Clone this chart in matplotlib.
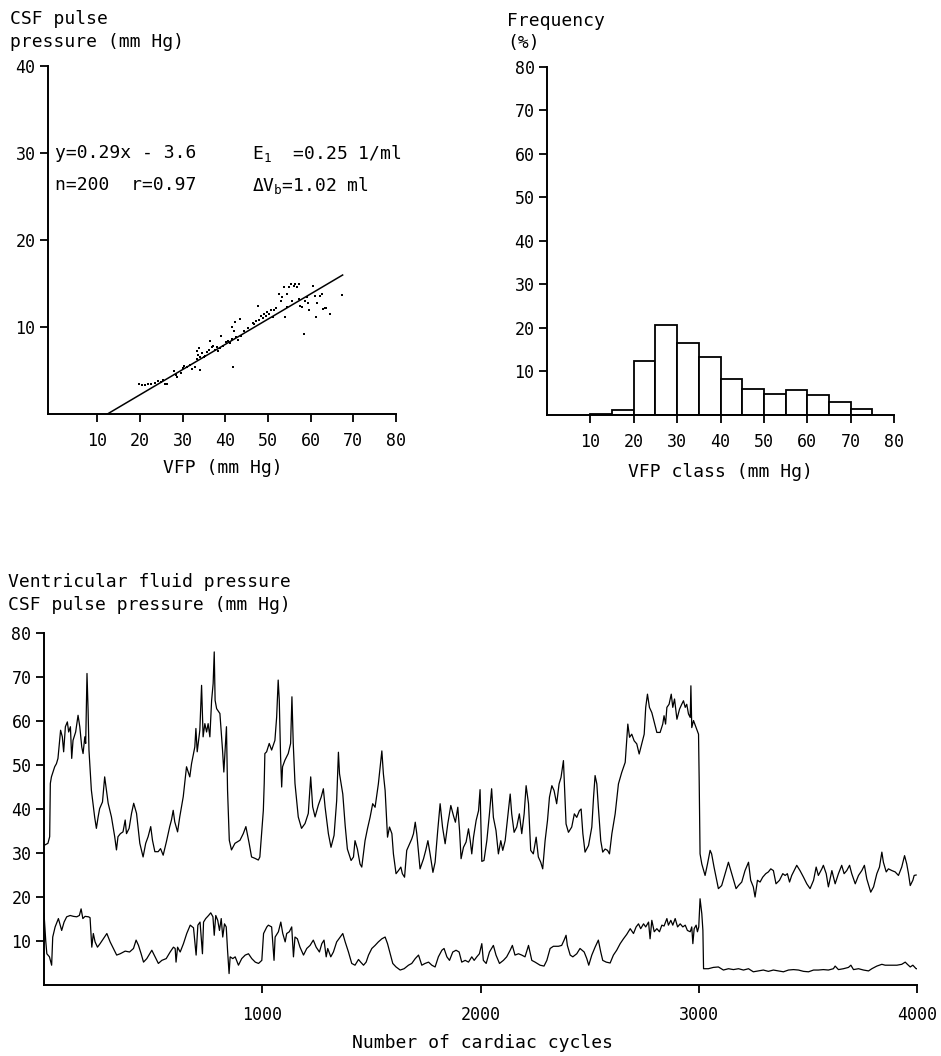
import numpy as np
import matplotlib
matplotlib.use('Agg')
import matplotlib.pyplot as plt

plt.rcParams['font.family'] = ['DejaVu Sans Mono', 'DejaVu Sans']
plt.rcParams['mathtext.default'] = 'regular'
plt.rcParams['mathtext.fontset'] = 'custom'
plt.rcParams['mathtext.rm'] = 'DejaVu Sans Mono'

# scatter: VFP vs CSF pulse pressure (mm Hg)
vfp_pts = [19.8, 20.4, 21.2, 21.9, 22.7, 23.5, 24.2, 25.0, 25.8, 26.4, 25.4,
           28.05, 28.4, 28.8, 29.6, 30.0, 30.4, 31.1, 31.7, 32.3, 32.9, 33.4,
           33.65, 34.0, 34.2, 34.6, 33.3, 35.0, 35.3, 33.8, 35.7, 36.1, 36.5,
           36.9, 37.25, 37.6, 38.0, 38.4, 38.8, 39.0, 39.55, 40.1, 40.55, 41.1,
           41.5, 41.7, 42.1, 42.4, 42.6, 43.0, 43.4, 41.85, 43.8, 44.5, 45.3,
           46.5, 46.8, 47.2, 47.6, 48.0, 48.4, 48.8, 49.1, 49.5, 49.9, 50.3,
           50.7, 51.1, 51.4, 51.8, 52.6, 53.0, 53.4, 53.7, 54.1, 54.4, 54.5,
           54.9, 55.3, 55.7, 56.0, 56.4, 56.8, 57.2, 57.4, 57.6, 58.0, 58.5,
           58.7, 59.1, 59.5, 59.7, 60.6, 61.0, 61.3, 61.4, 62.2, 62.6, 62.8,
           63.3, 63.7, 64.5, 67.4]
csf_pts = [3.4, 3.3, 3.3, 3.4, 3.5, 3.6, 3.75, 3.7, 3.4, 3.5, 3.9,
           4.98, 4.52, 4.21, 4.67, 5.29, 5.56, 5.36, 5.63, 5.17, 5.44, 6.32,
           6.82, 5.06, 6.59, 6.97, 7.28, 6.51, 6.70, 7.59, 7.09, 7.36, 8.35,
           7.66, 7.85, 7.36, 7.66, 7.28, 7.59, 9.0, 7.85, 8.24, 8.43, 8.12,
           8.62, 10.04, 9.58, 10.54, 8.81, 8.51, 10.92, 5.44, 9.0, 9.58, 9.89,
           10.42, 10.34, 10.65, 12.45, 10.8, 11.3, 11.0, 11.5, 11.3, 11.7, 11.5,
           11.9, 11.1, 11.95, 12.2, 13.8, 13.0, 13.4, 14.6, 11.1, 12.3, 13.8,
           14.6, 14.9, 13.0, 14.75, 14.9, 14.6, 14.9, 13.2, 12.45, 12.3, 9.2,
           13.0, 13.4, 12.8, 11.9, 14.75, 13.6, 11.1, 12.8, 13.6, 13.8, 12.1,
           12.2, 12.2, 11.5, 13.7]
slope, intercept = 0.29, -3.6
fit_range = [3.6 / 0.29, 67.5]

# histogram: VFP classes (mm Hg) and frequency (%)
class_left = [10, 15, 20, 25, 30, 35, 40, 45, 50, 55, 60, 65, 70]
class_freq = [0.2, 1.2, 12.3, 20.6, 16.6, 13.3, 8.3, 6.0, 4.8, 5.8, 4.7, 2.9, 1.3]

# trend of ventricular fluid pressure over cardiac cycles
vfp_cycles = [3, 18, 26, 29, 34, 49, 57, 64, 76, 84, 90, 98, 107, 113, 121, 127, 133, 145, 156, 164,
              173, 179, 187, 191, 197, 202, 206, 217, 232, 240, 248, 255, 268, 278, 286, 294, 309, 324,
              332, 339, 350, 362, 372, 378, 390, 401, 411, 424, 439, 454, 466, 477, 489, 497, 508, 523,
              534, 546, 561, 576, 584, 592, 599, 612, 622, 638, 653, 668, 676, 691, 696, 702, 714, 722,
              729, 737, 745, 752, 760, 768, 775, 780, 784, 791, 806, 818, 824, 830, 836, 841, 849, 859,
              875, 898, 913, 925, 940, 951, 966, 982, 989, 997, 1005, 1009, 1012, 1020, 1032, 1043, 1058,
              1066, 1073, 1078, 1084, 1089, 1093, 1104, 1119, 1130, 1136, 1142, 1150, 1165, 1180, 1196,
              1211, 1222, 1231, 1242, 1257, 1270, 1280, 1288, 1303, 1315, 1329, 1341, 1349, 1354, 1369,
              1380, 1390, 1407, 1418, 1425, 1436, 1448, 1456, 1471, 1482, 1494, 1506, 1517, 1532, 1543,
              1548, 1555, 1563, 1574, 1583, 1594, 1601, 1613, 1624, 1635, 1642, 1652, 1662, 1675, 1685,
              1693, 1701, 1708, 1723, 1739, 1749, 1759, 1769, 1782, 1792, 1804, 1815, 1826, 1838, 1850,
              1864, 1876, 1885, 1896, 1904, 1911, 1922, 1934, 1945, 1953, 1960, 1968, 1980, 1991, 1998,
              2006, 2016, 2029, 2041, 2051, 2059, 2071, 2082, 2093, 2102, 2113, 2123, 2136, 2143, 2154,
              2166, 2178, 2189, 2200, 2209, 2220, 2230, 2242, 2255, 2265, 2276, 2285, 2296, 2307, 2316,
              2327, 2337, 2349, 2360, 2369, 2380, 2385, 2392, 2403, 2418, 2430, 2441, 2453, 2461, 2469,
              2479, 2495, 2510, 2518, 2525, 2533, 2540, 2551, 2560, 2571, 2582, 2591, 2602, 2617, 2632,
              2647, 2663, 2670, 2675, 2683, 2693, 2704, 2716, 2727, 2739, 2750, 2757, 2765, 2774, 2785,
              2796, 2808, 2823, 2835, 2841, 2848, 2854, 2864, 2874, 2881, 2889, 2900, 2912, 2922, 2930,
              2938, 2945, 2953, 2961, 2964, 2968, 2976, 2988, 2999, 3002, 3006, 3014, 3029, 3040, 3052,
              3059, 3070, 3090, 3105, 3121, 3136, 3147, 3156, 3171, 3182, 3197, 3212, 3228, 3238, 3250,
              3258, 3269, 3281, 3293, 3307, 3319, 3330, 3342, 3354, 3370, 3385, 3396, 3406, 3416, 3426,
              3437, 3449, 3464, 3480, 3495, 3510, 3526, 3538, 3548, 3564, 3571, 3584, 3594, 3610, 3625,
              3640, 3655, 3666, 3678, 3691, 3701, 3717, 3732, 3747, 3759, 3770, 3788, 3801, 3816, 3828,
              3839, 3846, 3859, 3869, 3885, 3900, 3915, 3930, 3943, 3953, 3961, 3969, 3981, 3987, 3996]
vfp_values = [31.8, 32.2, 33.7, 45.8, 47.3, 49.6, 50.3, 51.5, 57.9, 56.4, 53, 58.7, 59.8, 57.5, 58.7, 51.5, 55.6, 57.5, 61.3, 58.7,
              54.1, 52.6, 56.4, 54.9, 70.8, 62.5, 53.4, 44.3, 38.2, 35.6, 38.2, 40.1, 41.6, 47.3, 44.3, 41.3, 38.2, 33.7,
              30.7, 33.7, 34.4, 34.8, 37.5, 34.4, 35.6, 39, 41.3, 39, 32.2, 29.1, 32.2, 33.7, 36, 32.9, 30.3, 30.3,
              31, 29.5, 32.6, 36, 37.5, 39.7, 37.1, 34.8, 38.2, 42.8, 49.6, 47.3, 50.3, 54.1, 58.3, 53, 57.9, 68.1,
              56.4, 59.4, 57.5, 59.4, 56.4, 64.7, 68.5, 75.7, 64.7, 62.8, 61.7, 53.4, 48.4, 53.4, 58.7, 44.3, 32.9, 30.7,
              32.2, 32.9, 34.4, 36, 32.2, 29.1, 28.8, 28.4, 29.1, 34.4, 39.7, 45.8, 52.6, 53, 54.9, 53.4, 55.6,
              60.9, 69.3, 64.7, 51.9, 45, 49.6, 51.1, 52.6, 54.9, 65.5, 54.9, 45.8, 38.2, 35.6, 36.7,
              39, 47.3, 40.5, 38.2, 40.9, 42.7, 44.6, 40.4, 34.4, 31.3, 34, 41.9, 52.9, 48, 43.4,
              36.2, 30.9, 28.3, 29.1, 32.8, 30.9, 27.5, 26.8, 32.8, 35.5, 38.1, 41.2, 40.4, 45.7, 51,
              53.2, 48, 44.2, 33.6, 35.9, 34.4, 29.8, 25.3, 26, 26.8, 25.3, 24.5, 30.6, 32.1, 33.2,
              34.4, 37, 34.4, 26.4, 28.7, 30.6, 32.8, 29.8, 25.6, 27.9, 35.1, 41.2, 35.9, 32.1, 36.6,
              40.8, 38.5, 37, 40.4, 35.1, 28.7, 31.3, 32.5, 35.5, 32.8, 29.8, 33.6, 37.4, 39.6, 44.4,
              28.1, 28.3, 32.8, 38.9, 44.6, 38.1, 35.1, 29.8, 32.8, 30.6, 32.8, 37.4, 43.4, 38.9, 34.7,
              35.9, 38.9, 34.4, 38.9, 45.3, 41.2, 30.6, 29.8, 33.6, 29.1, 27.9, 26.4, 32.8, 37.4, 42.7,
              45.3, 44.2, 41.2, 45.7, 47.2, 51, 44.9, 36.6, 34.7, 35.9, 38.9, 38.1, 39.6, 40, 34.4,
              30.2, 31.7, 35.9, 42.7, 47.6, 45.7, 40.4, 32.8, 30.2, 30.9, 30.6, 29.8, 34.4, 38.9, 45.7,
              48.3, 50.6, 55.5, 59.3, 56.3, 57, 55.5, 54.8, 52.5, 54.8, 57, 63.1, 66.1, 63.1, 61.9,
              59.7, 57.4, 57.4, 59.3, 61.2, 59.3, 63.1, 63.8, 66.1, 63.1, 65, 60.4, 62.7, 63.8, 64.6,
              63.1, 63.8, 61.6, 60.8, 68, 58.5, 60.1, 58.5, 57, 46.4, 29.8, 27.5, 24.9, 27.5, 30.6,
              29.8, 26.8, 21.9, 22.6, 25.3, 27.9, 26, 24.5, 21.9, 22.6, 23.4, 26, 27.9, 23.8, 22.3,
              20, 23.8, 23.4, 24.5, 25.3, 25.7, 26.4, 26, 23, 23.8, 25.3, 24.9, 25.3, 23.4, 24.9,
              26, 27.2, 26, 24.5, 23, 21.9, 23.8, 26.8, 24.9, 26.4, 27.2, 25.3, 22.3, 26, 23,
              25.3, 27.2, 25.3, 26, 27.2, 25.3, 23, 24.9, 26, 27.2, 24.1, 21.1, 22.3, 25.3, 26.8,
              30.2, 27.9, 25.7, 26.4, 26, 25.7, 24.9, 26.8, 29.4, 27.5, 25.3, 22.6, 23.8, 24.9, 25]

# trend of CSF pulse pressure over cardiac cycles
csf_cycles = [0, 8, 13, 25, 35, 40, 51, 66, 81, 92, 104, 120, 135, 150, 162, 170, 178, 188, 204, 211,
              219, 226, 234, 245, 257, 272, 288, 303, 318, 333, 349, 372, 392, 410, 422, 433, 445, 456,
              471, 494, 509, 524, 540, 560, 578, 593, 601, 605, 612, 624, 639, 654, 670, 685, 697, 705,
              715, 726, 731, 741, 754, 764, 774, 780, 787, 796, 804, 812, 819, 827, 835, 841, 848, 853,
              865, 876, 891, 906, 922, 937, 952, 968, 983, 998, 1006, 1021, 1028, 1043, 1054, 1059, 1074,
              1085, 1094, 1105, 1112, 1124, 1135, 1143, 1150, 1161, 1173, 1189, 1204, 1219, 1234, 1247,
              1262, 1273, 1283, 1293, 1300, 1314, 1326, 1341, 1357, 1369, 1380, 1395, 1410, 1425, 1441,
              1451, 1464, 1476, 1487, 1502, 1517, 1532, 1548, 1563, 1574, 1586, 1598, 1613, 1632, 1650,
              1670, 1685, 1701, 1716, 1731, 1746, 1762, 1777, 1792, 1807, 1823, 1833, 1846, 1858, 1873,
              1888, 1902, 1914, 1930, 1945, 1960, 1971, 1983, 1995, 2006, 2013, 2026, 2041, 2059, 2071,
              2087, 2105, 2120, 2136, 2146, 2158, 2174, 2189, 2204, 2220, 2235, 2250, 2273, 2291, 2304,
              2319, 2334, 2357, 2372, 2383, 2392, 2398, 2411, 2423, 2441, 2456, 2475, 2487, 2496, 2510,
              2525, 2540, 2551, 2560, 2576, 2594, 2609, 2624, 2640, 2655, 2670, 2686, 2701, 2713, 2724,
              2734, 2747, 2757, 2770, 2777, 2785, 2796, 2808, 2820, 2831, 2841, 2854, 2861, 2872, 2881,
              2892, 2903, 2915, 2927, 2938, 2948, 2961, 2968, 2973, 2979, 2988, 2994, 3000, 3006, 3014,
              3019, 3022, 3044, 3067, 3090, 3113, 3136, 3159, 3182, 3205, 3228, 3250, 3273, 3296, 3319,
              3342, 3365, 3388, 3411, 3434, 3457, 3480, 3503, 3526, 3548, 3571, 3594, 3617, 3625, 3640,
              3663, 3686, 3697, 3709, 3732, 3755, 3778, 3793, 3816, 3839, 3854, 3877, 3908, 3930, 3946,
              3956, 3969, 3981, 3996, 4000]
csf_values = [16.3, 10, 7.1, 6.4, 4.5, 10.9, 13.2, 15.1, 12.4, 14.3, 15.5, 15.8, 15.6, 15.5, 15.8, 17.3, 15.1, 15.6, 15.5, 15.3,
              8.6, 11.7, 9.8, 8.6, 9.4, 10.5, 11.7, 9.8, 8.3, 6.8, 7.1, 7.7, 7.5, 8.3, 10.2, 9, 7.1, 5.2,
              6, 7.9, 6.4, 4.9, 5.6, 6, 7.5, 8.6, 8.3, 5.2, 8.6, 7.5, 9.4, 11.7, 13.6, 13, 6.8, 13.6,
              14.3, 7.1, 14.3, 15.1, 15.8, 16.4, 15.5, 11.3, 15.8, 14.7, 12.4, 15.1, 10.9, 13.9, 13.2, 7.9, 2.6, 6.4,
              6, 6.4, 4.5, 6, 6.8, 7.1, 6, 5.2, 4.9, 5.6, 11.7, 13.2, 13.6, 13.2, 5.6, 10.9, 12.1,
              14.3, 11.7, 9.8, 11.7, 12.1, 13.2, 6.4, 10.9, 10.5, 8.6, 6.8, 8.3, 9, 10.2, 8.6,
              7.5, 9.4, 10.2, 6.4, 8.3, 6.4, 7.5, 9.8, 10.9, 11.7, 9.8, 7.5, 4.9, 4.5, 5.8,
              5.2, 4.5, 5.2, 6.8, 8.3, 9, 9.8, 10.5, 10.9, 9.4, 7.1, 4.9, 4.1, 3.4, 3.7,
              4.5, 4.9, 6, 6.8, 4.5, 4.9, 5.2, 4.5, 4.1, 6.4, 7.9, 8.3, 6.4, 5.6, 7.5,
              7.9, 7.5, 5.2, 5.6, 5.2, 6.4, 5.6, 6.4, 7.1, 9.4, 5.6, 4.9, 7.5, 9, 6.8,
              4.9, 5.6, 6.4, 7.9, 9, 6.8, 7.1, 6.8, 6.4, 9, 5.6, 5.2, 4.5, 4.3, 5.6,
              8.3, 8.8, 8.8, 9, 10.2, 11.3, 9, 6.8, 6.4, 7.1, 8.3, 7.5, 6, 4.5, 6.8,
              8.6, 10.2, 7.5, 5.6, 5.2, 5, 6.8, 7.9, 9.4, 10.5, 11.5, 12.8, 11.7, 13.2, 13.9,
              12.8, 13.9, 13.2, 14.3, 10.5, 14.7, 12.1, 12.8, 12.1, 13.6, 13.4, 15.1, 13.6, 14.7, 13.6,
              15.1, 13.2, 13.9, 13.2, 13.6, 12.4, 12.1, 13.2, 9.4, 12.8, 13.6, 12.1, 13.2, 19.6, 16.2,
              12.4, 3.7, 3.7, 4, 4.1, 3.4, 3.7, 3.5, 3.7, 3.4, 3.7, 3, 3.2, 3.4, 3.1,
              3.4, 3.2, 3, 3.4, 3.5, 3.4, 3.1, 3, 3.4, 3.4, 3.5, 3.4, 3.7, 4.3, 3.5,
              3.7, 4, 4.5, 3.5, 3.7, 3.4, 3.2, 3.7, 4.3, 4.7, 4.5, 4.5, 4.5, 4.7, 5.2,
              4.7, 4.1, 4.5, 3.7, 3.7]

TICK_FS = 12
LABEL_FS = 13
W, H = 941, 1056


def px(x, y):
    # pixel position (from top-left) to figure fraction
    return x / W, 1 - y / H


def style_axes(ax, xpad):
    for side in ('top', 'right'):
        ax.spines[side].set_visible(False)
    for side in ('left', 'bottom'):
        ax.spines[side].set_linewidth(1.4)
    ax.tick_params(direction='out', length=6, width=1.3, labelsize=TICK_FS)
    ax.tick_params(axis='y', pad=3)
    ax.tick_params(axis='x', pad=xpad)


def label(x, y, s, ha='left'):
    fig.text(*px(x, y), s, fontsize=LABEL_FS, ha=ha, va='center')


fig = plt.figure(figsize=(W / 100, H / 100), dpi=100)

# --- scatter with regression line ---
ax1 = fig.add_axes([48 / W, 1 - 414 / H, 348 / W, 348 / H])
style_axes(ax1, 7)
ax1.scatter(vfp_pts, csf_pts, s=3, c='black', marker='s', linewidths=0)
fx = np.array(fit_range)
ax1.plot(fx, slope * fx + intercept, color='black', lw=1.1)
ax1.set_xlim(-1.5, 80)
ax1.set_ylim(0, 40)
ax1.set_xticks(range(10, 81, 10))
ax1.set_yticks(range(10, 41, 10))
label(10, 19, 'CSF pulse')
label(10, 42, 'pressure (mm Hg)')
label(223, 468, 'VFP (mm Hg)', ha='center')
ax1.text(0.2, 30, 'y=0.29x - 3.6', fontsize=LABEL_FS, va='center')
ax1.text(0.2, 26.3, 'n=200  r=0.97', fontsize=LABEL_FS, va='center')
ax1.text(46.2, 30, r'E$_1$  =0.25 1/ml', fontsize=LABEL_FS, va='center')
ax1.text(46.2, 26.3, r'$\Delta$V$_b$=1.02 ml', fontsize=LABEL_FS, va='center')

# --- histogram of VFP classes ---
ax2 = fig.add_axes([547 / W, 1 - 415 / H, 347 / W, 348.3 / H])
style_axes(ax2, 7)
ax2.bar(class_left, class_freq, width=5, align='edge', facecolor='white',
        edgecolor='black', linewidth=1.3)
ax2.set_xlim(0, 80)
ax2.set_ylim(0, 80)
ax2.set_xticks(range(10, 81, 10))
ax2.set_yticks(range(10, 81, 10))
label(507, 21, 'Frequency')
label(507, 43, '(%)')
label(720, 472, 'VFP class (mm Hg)', ha='center')

# --- VFP and CSF pulse pressure over cardiac cycles ---
ax3 = fig.add_axes([44 / W, 1 - 985 / H, 873 / W, 352 / H])
style_axes(ax3, 9)
ax3.plot(vfp_cycles, vfp_values, color='black', lw=0.9)
ax3.plot(csf_cycles, csf_values, color='black', lw=0.9)
ax3.set_xlim(0, 4000)
ax3.set_ylim(0, 80)
ax3.set_xticks([1000, 2000, 3000, 4000])
ax3.set_yticks(range(10, 81, 10))
label(8, 582, 'Ventricular fluid pressure')
label(8, 605, 'CSF pulse pressure (mm Hg)')
label(483, 1043, 'Number of cardiac cycles', ha='center')

fig.savefig('out.png', dpi=100, facecolor='white')
